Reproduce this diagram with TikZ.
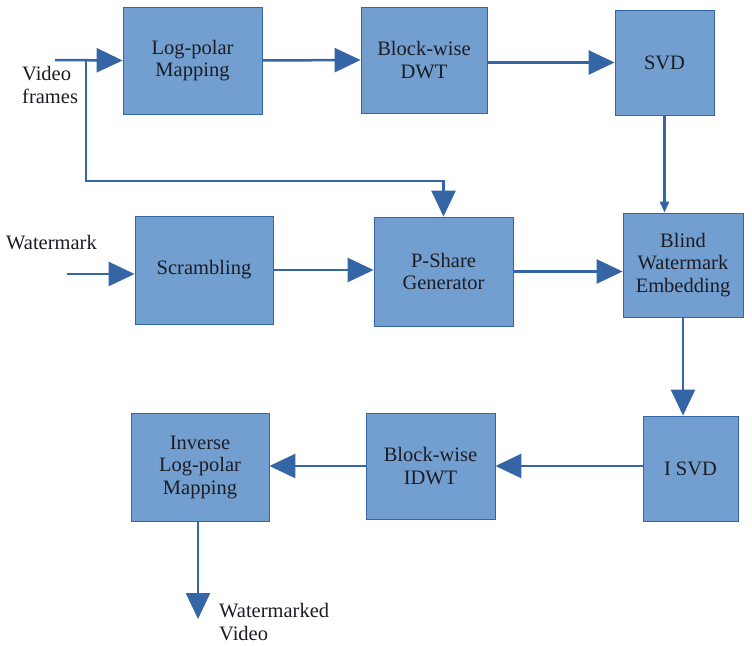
\documentclass[tikz,border=0pt]{standalone}
\usepackage{fontspec}
\setmainfont{Liberation Serif}
\usetikzlibrary{arrows.meta}
\definecolor{boxfill}{HTML}{729FCF}
\definecolor{boxline}{HTML}{3465A4}
\definecolor{flow}{HTML}{3465A4}
\definecolor{ink}{HTML}{1C1C24}
\tikzset{
  block/.style={draw=boxline, line width=0.8pt, fill=boxfill, inner sep=0pt,
    align=center, text=ink, font=\fontsize{20.5}{22.5}\selectfont},
  label/.style={inner sep=0pt, align=left, text=ink, font=\fontsize{20.5}{23}\selectfont},
  flowline/.style={draw=flow, line width=2.5pt},
  bigarrow/.style={flowline, -{Triangle[length=26pt,width=24pt]}},
  smallarrow/.style={flowline, -{Triangle[length=11pt,width=9pt]}},
}
\newcommand{\blockat}[5]{% name, x0, y0, x1, y1
  \node[block, minimum width={(#4-#2)*1pt}, minimum height={(#5-#3)*1pt}]
    (#1) at ({(#2+#4)/2},{(#3+#5)/2})}
\begin{document}
\begin{tikzpicture}[x=1pt,y=-1pt]
\useasboundingbox (0,0) rectangle (752,645);

% processing blocks
\blockat{lp}{123}{7}{262}{114} {Log-polar\\Mapping};
\blockat{dwt}{361}{7}{487}{113} {Block-wise\\DWT};
\blockat{svd}{615}{10}{714}{115} {SVD};
\blockat{scr}{135}{216}{273}{324} {Scrambling};
\blockat{ps}{374}{217}{513}{326} {P-Share\\Generator};
\blockat{emb}{623}{213}{743}{317} {Blind\\Watermark\\Embedding};
\blockat{isvd}{643}{416}{738}{521} {I SVD};
\blockat{idwt}{366}{413}{495}{519} {Block-wise\\IDWT};
\blockat{ilp}{131}{413}{269}{521} {Inverse\\Log-polar\\Mapping};

% free ends and labels
\coordinate (vin) at (55,60);
\coordinate (br) at (86,60);
\coordinate (win) at (67,274);
\coordinate (vout) at (198,619);
\node[label, anchor=west] (vlabel) at (22,85) {Video\\frames};
\node[label, anchor=west] (wlabel) at (6,243) {Watermark};
\node[label, anchor=west] (olabel) at (219,622) {Watermarked\\Video};

% connectors
\draw[bigarrow] (vin) -- (lp.west);
\draw[bigarrow] (br) -- (br |- 0,181) -| (ps.north);
\draw[bigarrow] (lp.east) -- (dwt.west);
\draw[bigarrow] (dwt.east |- svd) -- (svd.west);
\draw[smallarrow] (svd.south) -- (svd.south |- emb.north);
\draw[bigarrow] (win) -- (win -| scr.west);
\draw[bigarrow] (scr.east) -- (scr.east -| ps.west);
\draw[bigarrow] (ps.east) -- (ps.east -| emb.west);
\draw[bigarrow] (emb.south) -- (emb.south |- isvd.north);
\draw[bigarrow] (isvd.west |- idwt) -- (idwt.east);
\draw[bigarrow] (idwt.west) -- (idwt.west -| ilp.east);
\draw[bigarrow] (ilp.south -| vout) -- (vout);
\end{tikzpicture}
\end{document}
